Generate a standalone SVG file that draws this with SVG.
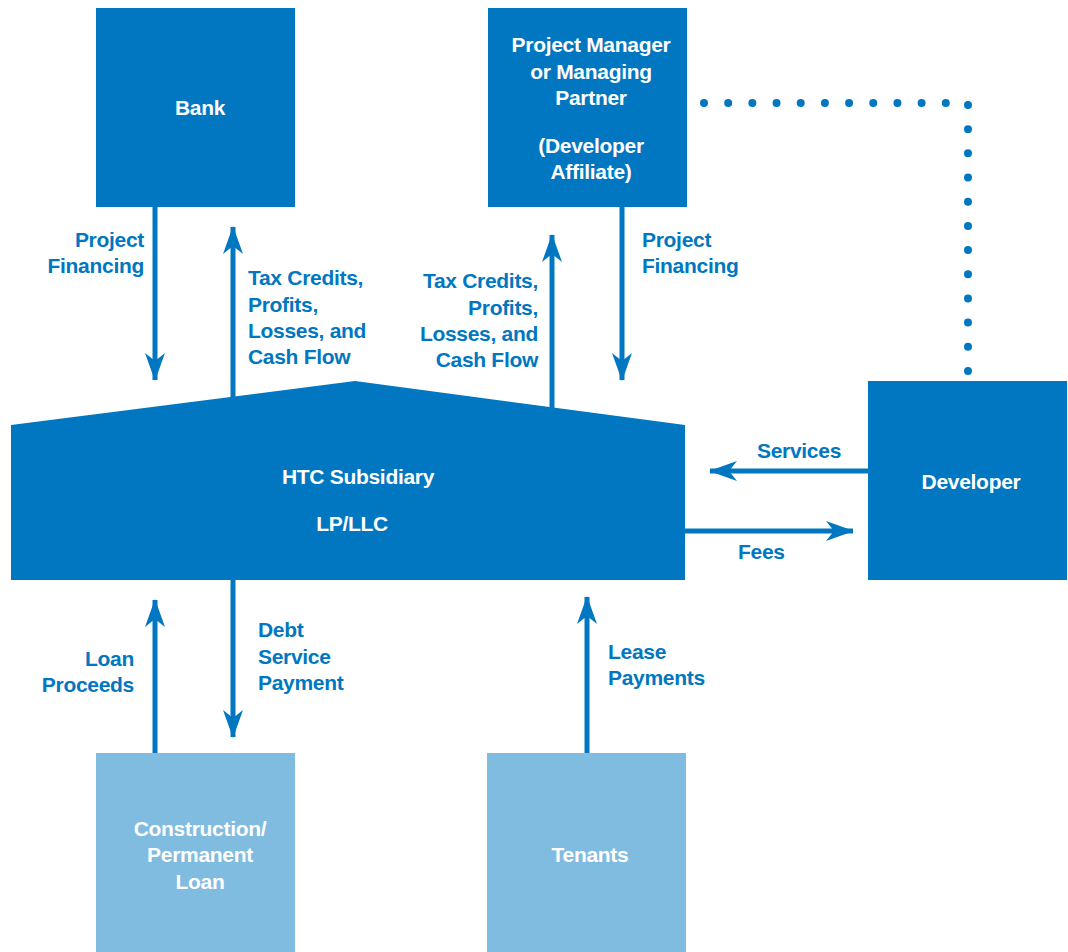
<svg xmlns="http://www.w3.org/2000/svg" width="1068" height="952" viewBox="0 0 1068 952">
<defs>
<style>
.box{fill:#0077c0}
.lbox{fill:#80bbe0}
.w{font-family:"Liberation Sans",Arial,sans-serif;font-weight:bold;font-size:21px;letter-spacing:-0.3px;fill:#ffffff;text-anchor:middle}
.b{font-family:"Liberation Sans",Arial,sans-serif;font-weight:bold;font-size:21px;letter-spacing:-0.3px;fill:#0077c0}
.r{text-anchor:end}
.ln{stroke:#0077c0;stroke-width:5;fill:none}
.dot{stroke:#0077c0;stroke-width:8;fill:none;stroke-linecap:round;stroke-dasharray:0 24.18}
</style>
<marker id="ah" viewBox="0 0 28 20" refX="27" refY="10" markerWidth="28" markerHeight="20" markerUnits="userSpaceOnUse" orient="auto">
<path d="M0,0 L28,10 L0,20 L8,10 Z" fill="#0077c0"/>
</marker>
</defs>
<rect width="1068" height="952" fill="#ffffff"/>
<g id="connectors">
<line class="ln" x1="155" y1="207" x2="155" y2="380" marker-end="url(#ah)"/>
<line class="ln" x1="233" y1="398" x2="233" y2="227" marker-end="url(#ah)"/>
<line class="ln" x1="552" y1="410" x2="552" y2="235" marker-end="url(#ah)"/>
<line class="ln" x1="622" y1="207" x2="622" y2="380" marker-end="url(#ah)"/>
<line class="ln" x1="868" y1="471" x2="710" y2="471" marker-end="url(#ah)"/>
<line class="ln" x1="685" y1="531" x2="853" y2="531" marker-end="url(#ah)"/>
<line class="ln" x1="155" y1="753" x2="155" y2="600" marker-end="url(#ah)"/>
<line class="ln" x1="233" y1="580" x2="233" y2="737" marker-end="url(#ah)"/>
<line class="ln" x1="587" y1="753" x2="587" y2="597" marker-end="url(#ah)"/>
<path class="dot" d="M704,103 H968 V372"/>
</g>
<g id="bank">
<rect class="box" x="96" y="8" width="199" height="199"/>
<text class="w" x="200" y="115">Bank</text>
</g>
<g id="pm">
<rect class="box" x="488" y="8" width="199" height="199"/>
<text class="w" x="591" y="52">Project Manager</text>
<text class="w" x="591" y="79">or Managing</text>
<text class="w" x="591" y="105">Partner</text>
<text class="w" x="591" y="153">(Developer</text>
<text class="w" x="591" y="179">Affiliate)</text>
</g>
<g id="htc">
<polygon class="box" points="11,425 355,381 685,425 685,580 11,580"/>
<text class="w" x="358" y="484">HTC Subsidiary</text>
<text class="w" x="352" y="531">LP/LLC</text>
</g>
<g id="developer">
<rect class="box" x="868" y="381" width="199" height="199"/>
<text class="w" x="971" y="489">Developer</text>
</g>
<g id="loan">
<rect class="lbox" x="96" y="753" width="199" height="199"/>
<text class="w" x="200" y="836">Construction/</text>
<text class="w" x="200" y="862">Permanent</text>
<text class="w" x="200" y="889">Loan</text>
</g>
<g id="tenants">
<rect class="lbox" x="487" y="753" width="199" height="199"/>
<text class="w" x="590" y="862">Tenants</text>
</g>
<g id="labels">
<text class="b r" x="144" y="247">Project</text>
<text class="b r" x="144" y="273">Financing</text>
<text class="b" x="248" y="285">Tax Credits,</text>
<text class="b" x="248" y="312">Profits,</text>
<text class="b" x="248" y="338">Losses, and</text>
<text class="b" x="248" y="364">Cash Flow</text>
<text class="b r" x="538" y="288">Tax Credits,</text>
<text class="b r" x="538" y="315">Profits,</text>
<text class="b r" x="538" y="341">Losses, and</text>
<text class="b r" x="538" y="367">Cash Flow</text>
<text class="b" x="642" y="247">Project</text>
<text class="b" x="642" y="273">Financing</text>
<text class="b" x="757" y="458">Services</text>
<text class="b" x="738" y="559">Fees</text>
<text class="b r" x="134" y="666">Loan</text>
<text class="b r" x="134" y="692">Proceeds</text>
<text class="b" x="258" y="637">Debt</text>
<text class="b" x="258" y="664">Service</text>
<text class="b" x="258" y="690">Payment</text>
<text class="b" x="608" y="659">Lease</text>
<text class="b" x="608" y="685">Payments</text>
</g>
</svg>
